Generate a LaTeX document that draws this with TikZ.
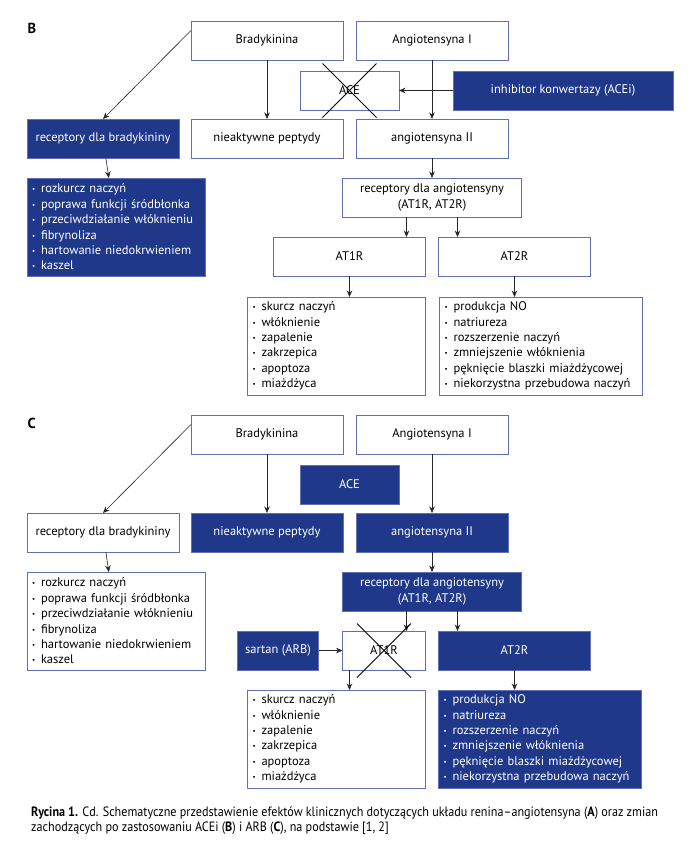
\documentclass[tikz,border=0pt]{standalone}
\usepackage{fontspec}
\setmainfont{PT Sans}
\newfontfamily\capfont[FakeStretch=0.9]{PT Sans}
\usepackage{tikz}
\usetikzlibrary{arrows.meta, positioning, calc}
\definecolor{navy}{RGB}{31,56,138}
\definecolor{edgeblue}{RGB}{95,112,182}
\newcommand{\bul}{\makebox[9pt][l]{\raisebox{1pt}{\scalebox{0.55}{\textbullet}}}}
\tikzset{
  box/.style       = {rectangle, draw=edgeblue, line width=0.8pt, fill=white,
                      minimum height=39pt, minimum width=152pt, inner sep=0pt,
                      outer sep=0pt, align=center, font=\fontsize{12.5}{15.5}\selectfont},
  fbox/.style      = {box, fill=navy, text=white},
  list/.style      = {rectangle, draw=edgeblue, line width=0.8pt, fill=white,
                      minimum height=98pt, inner xsep=5pt, inner ysep=0pt, outer sep=0pt,
                      align=left, font=\fontsize{12.5}{15.4}\selectfont},
  flist/.style     = {list, fill=navy, text=white},
  arrow/.style     = {-{Stealth[length=6.5pt, width=5.5pt]}, line width=0.6pt, black!85},
  cross/.style     = {line width=0.9pt, black},
  panel/.style     = {font=\fontsize{14.5}{16}\selectfont\bfseries, anchor=west},
}

\begin{document}
\begin{tikzpicture}[x=1pt, y=1pt]
  \useasboundingbox (0,0) rectangle (700,-852);

  % ---------- panel B ----------
  \node[panel] (lab_b) at (24,-28) {B};

  \node[box] (brad_b) at (267,-40.5) {Bradykinina};
  \node[box, right=13pt of brad_b] (angi_b) {Angiotensyna I};
  \node[box, minimum width=99pt, below=11pt of $(brad_b.south east)!0.5!(angi_b.south west)$] (ace_b) {ACE};
  \node[fbox, minimum width=220pt, right=54pt of ace_b] (acei_b) {inhibitor konwertazy (ACEi)};

  \node[box, below=59pt of brad_b] (niep_b) {nieaktywne peptydy};
  \node[fbox, left=12pt of niep_b] (recbk_b) {receptory dla bradykininy};
  \node[box, below=59pt of angi_b] (angii_b) {angiotensyna II};

  \node[flist, text width=168pt, below right=20pt and 0pt of recbk_b.south west] (bklist_b)
    {\bul rozkurcz naczyń\\ \bul poprawa funkcji śródbłonka\\ \bul przeciwdziałanie włóknieniu\\
     \bul fibrynoliza\\ \bul hartowanie niedokrwieniem\\ \bul kaszel};

  \node[box, minimum width=179pt, below=20pt of angii_b] (recat_b) {receptory dla angiotensyny\\(AT1R, AT2R)};
  \node[box, below left=20pt and 6.5pt of recat_b.south] (at1_b) {AT1R};
  \node[box, below right=20pt and 6.5pt of recat_b.south] (at2_b) {AT2R};

  \node[list, text width=168pt, below left=21pt and 0pt of at1_b.south east] (at1list_b)
    {\bul skurcz naczyń\\ \bul włóknienie\\ \bul zapalenie\\ \bul zakrzepica\\ \bul apoptoza\\ \bul miażdżyca};
  \node[list, text width=193pt, below right=21pt and 1pt of at2_b.south west] (at2list_b)
    {\bul produkcja NO\\ \bul natriureza\\ \bul rozszerzenie naczyń\\ \bul zmniejszenie włóknienia\\
     \bul pęknięcie blaszki miażdżycowej\\ \bul niekorzystna przebudowa naczyń};

  \draw[arrow] ([yshift=10pt]brad_b.west) -- (recbk_b.north);
  \draw[arrow] (brad_b) -- (niep_b);
  \draw[arrow] (angi_b) -- (angii_b);
  \draw[arrow] (acei_b) -- (ace_b);
  \draw[arrow] (recbk_b) -- (bklist_b);
  \draw[arrow] (angii_b) -- (recat_b);
  \draw[arrow] ([xshift=-25.5pt]recat_b.south) -- ([xshift=-25.5pt]recat_b.south |- at1_b.north);
  \draw[arrow] ([xshift=25.5pt]recat_b.south) -- ([xshift=25.5pt]recat_b.south |- at2_b.north);
  \draw[arrow] (at1_b.south) -- (at1_b.south |- at1list_b.north);
  \draw[arrow] (at2_b.south) -- (at2_b.south |- at2list_b.north);

  \draw[cross] (ace_b.center) +(-27,27) -- +(27,-27);
  \draw[cross] (ace_b.center) +(27,27) -- +(-27,-27);

  % ---------- panel C ----------
  \node[panel] (lab_c) at (24,-423) {C};

  \node[box] (brad_c) at (267,-434.5) {Bradykinina};
  \node[box, right=13pt of brad_c] (angi_c) {Angiotensyna I};
  \node[fbox, minimum width=99pt, below=11pt of $(brad_c.south east)!0.5!(angi_c.south west)$] (ace_c) {ACE};

  \node[fbox, below=59pt of brad_c] (niep_c) {nieaktywne peptydy};
  \node[box, left=12pt of niep_c] (recbk_c) {receptory dla bradykininy};
  \node[fbox, below=59pt of angi_c] (angii_c) {angiotensyna II};

  \node[list, text width=168pt, below right=20pt and 0pt of recbk_c.south west] (bklist_c)
    {\bul rozkurcz naczyń\\ \bul poprawa funkcji śródbłonka\\ \bul przeciwdziałanie włóknieniu\\
     \bul fibrynoliza\\ \bul hartowanie niedokrwieniem\\ \bul kaszel};

  \node[fbox, minimum width=179pt, below=20pt of angii_c] (recat_c) {receptory dla angiotensyny\\(AT1R, AT2R)};
  \node[box, minimum width=83pt, below left=20pt and 6.5pt of recat_c.south] (at1_c) {AT1R};
  \node[fbox, below right=20pt and 6.5pt of recat_c.south] (at2_c) {AT2R};
  \node[fbox, minimum width=81pt, left=24pt of at1_c] (arb_c) {sartan (ARB)};

  \node[list, text width=168pt, below left=20pt and 0pt of at1_c.south east] (at1list_c)
    {\bul skurcz naczyń\\ \bul włóknienie\\ \bul zapalenie\\ \bul zakrzepica\\ \bul apoptoza\\ \bul miażdżyca};
  \node[flist, text width=193pt, below right=20pt and 0pt of at2_c.south west] (at2list_c)
    {\bul produkcja NO\\ \bul natriureza\\ \bul rozszerzenie naczyń\\ \bul zmniejszenie włóknienia\\
     \bul pęknięcie blaszki miażdżycowej\\ \bul niekorzystna przebudowa naczyń};

  \draw[arrow] ([yshift=10pt]brad_c.west) -- (recbk_c.north);
  \draw[arrow] (brad_c) -- (niep_c);
  \draw[arrow] (angi_c) -- (angii_c);
  \draw[arrow] (recbk_c) -- (bklist_c);
  \draw[arrow] (angii_c) -- (recat_c);
  \draw[arrow] ([xshift=-25.5pt]recat_c.south) -- ([xshift=-25.5pt]recat_c.south |- at1_c.north);
  \draw[arrow] ([xshift=25.5pt]recat_c.south) -- ([xshift=25.5pt]recat_c.south |- at2_c.north);
  \draw[arrow] (arb_c) -- (at1_c);
  \draw[arrow] ([xshift=7pt]at1_c.south west) -- ([xshift=7pt]at1_c.south west |- at1list_c.north);
  \draw[arrow] (at2_c.south) -- (at2_c.south |- at2list_c.north);

  \draw[cross] (at1_c.center) +(-27,27) -- +(27,-27);
  \draw[cross] (at1_c.center) +(27,27) -- +(-27,-27);

  % caption
  \node[anchor=north west, align=left, inner sep=0pt, font=\capfont\fontsize{13.5}{15}\selectfont] (caption) at (31,-807)
    {\textbf{Rycina 1.} Cd. Schematyczne przedstawienie efektów klinicznych dotyczących układu renina–angiotensyna (\textbf{A}) oraz zmian\\
     zachodzących po zastosowaniu ACEi (\textbf{B}) i ARB (\textbf{C}), na podstawie [1, 2]};
\end{tikzpicture}
\end{document}
